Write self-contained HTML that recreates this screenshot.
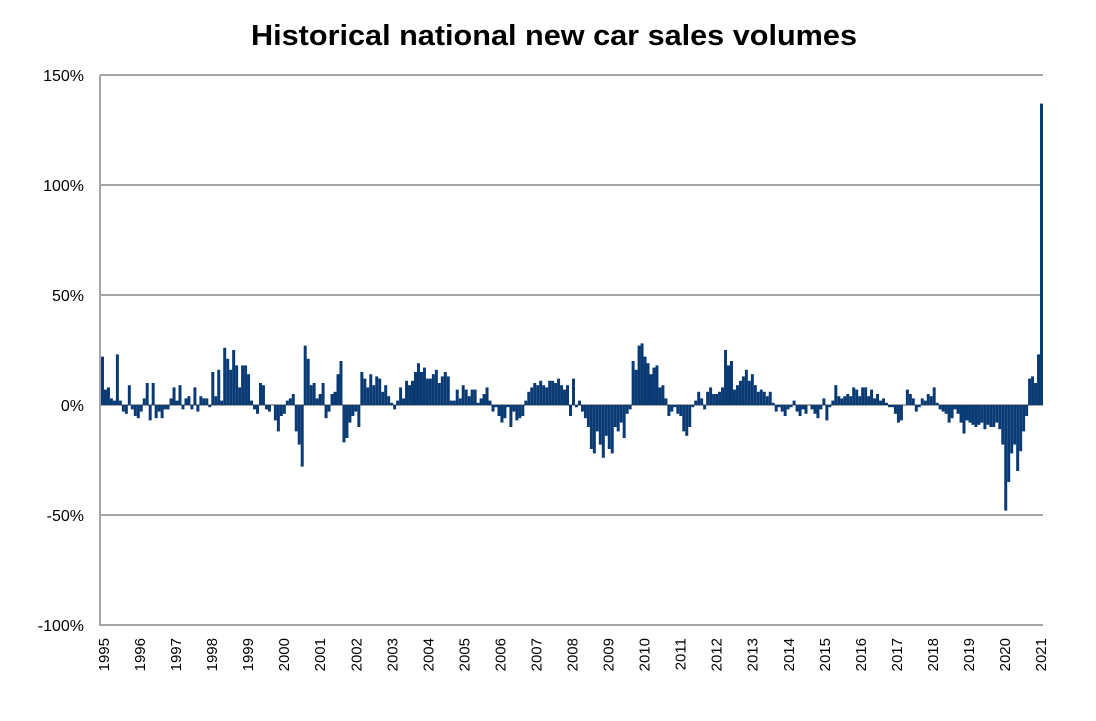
<!DOCTYPE html>
<html><head><meta charset="utf-8"><style>
body{margin:0;background:#fff;width:1096px;height:716px;overflow:hidden}
svg{font-family:"Liberation Sans",Arial,sans-serif}
</style></head><body>
<svg id="chart" width="1096" height="716" viewBox="0 0 1096 716">
<text x="554" y="45" text-anchor="middle" font-size="29" font-weight="bold" fill="#000" textLength="606" lengthAdjust="spacingAndGlyphs">Historical national new car sales volumes</text>
<g id="grid"></g><g id="bars"></g><g id="xlabels"></g>
</svg>
<script>
const yearLabels=[1995,1996,1997,1998,1999,2000,2001,2002,2003,2004,2005,2006,2007,2008,2009,2010,2011,2012,2013,2014,2015,2016,2017,2018,2019,2020,2021];
const yTicks=[150,100,50,0,-50,-100];
const y1995=[22,7,8,3,2,23,2,-3,-4,9,-2,-5];
const y1996=[-6,-3,3,10,-7,10,-6,-3,-6,-2,-2,3];
const y1997=[8,2,9,-2,3,4,-2,8,-3,4,3,3];
const y1998=[-1,15,4,16,2,26,21,16,25,18,8,18];
const y1999=[18,14,2,-2,-4,10,9,-2,-3,0,-7,-12];
const y2000=[-5,-4,2,3,5,-12,-18,-28,27,21,9,10];
const y2001=[3,5,10,-6,-3,5,6,14,20,-17,-15,-8];
const y2002=[-5,-3,-10,15,12,8,14,9,13,12,6,9];
const y2003=[4,1,-2,2,8,3,11,9,11,15,19,15];
const y2004=[17,12,12,14,16,10,13,15,13,2,2,7];
const y2005=[3,9,7,4,7,7,1,3,5,8,2,-3];
const y2006=[-1,-5,-8,-6,-1,-10,-3,-7,-6,-5,2,6];
const y2007=[8,10,9,11,9,8,11,11,10,12,9,7];
const y2008=[9,-5,12,-1,2,-3,-6,-10,-20,-22,-12,-18];
const y2009=[-24,-14,-20,-22,-10,-12,-8,-15,-4,-2,20,16];
const y2010=[27,28,22,19,14,17,18,8,9,3,-5,-3];
const y2011=[-1,-4,-5,-12,-14,-10,-1,2,6,3,-2,6];
const y2012=[8,5,5,6,8,25,18,20,7,9,11,13];
const y2013=[16,11,14,9,6,7,6,4,6,1,-3,-1];
const y2014=[-3,-5,-2,-1,2,-3,-5,-2,-4,0,-2,-4];
const y2015=[-6,-2,3,-7,-1,2,9,4,3,4,5,4];
const y2016=[8,7,4,8,8,4,7,3,5,2,3,1];
const y2017=[-1,-1,-4,-8,-7,0,7,5,3,-3,-1,3];
const y2018=[2,5,4,8,1,-2,-3,-4,-8,-6,-2,-4];
const y2019=[-8,-13,-7,-8,-9,-10,-9,-8,-11,-9,-10,-10];
const y2020=[-8,-11,-18,-48,-35,-22,-18,-30,-21,-12,-5,12];
const y2021=[13,10,23,137];
const values=[].concat(y1995,y1996,y1997,y1998,y1999,y2000,y2001,y2002,y2003,y2004,y2005,y2006,y2007,y2008,y2009,y2010,y2011,y2012,y2013,y2014,y2015,y2016,y2017,y2018,y2019,y2020,y2021);

const NS="http://www.w3.org/2000/svg";
const L=100,R=1043;
const yScale=v=>405-v*2.2;
const step=(R-101)/values.length;
const xMonth=i=>101+step*i;
const xYear=k=>104+36.04*k;
const grid=document.getElementById('grid');
const bars=document.getElementById('bars');
const xl=document.getElementById('xlabels');
yTicks.forEach(t=>{
  const ln=document.createElementNS(NS,'line');
  
  
  ln.setAttribute('x1',L);ln.setAttribute('x2',R);
  ln.setAttribute('y1',yScale(t));ln.setAttribute('y2',yScale(t));
  ln.setAttribute('stroke','#a6a6a6');ln.setAttribute('stroke-width','2');
  grid.appendChild(ln);
  const tx=document.createElementNS(NS,'text');
  
  
  tx.setAttribute('x',84);tx.setAttribute('y',yScale(t)+6);
  tx.setAttribute('text-anchor','end');tx.setAttribute('font-size','16');
  tx.textContent=t+'%';
  grid.appendChild(tx);
});
const ax=document.createElementNS(NS,'line');


ax.setAttribute('x1',L);ax.setAttribute('x2',L);ax.setAttribute('y1',75);ax.setAttribute('y2',626);
ax.setAttribute('stroke','#a6a6a6');ax.setAttribute('stroke-width','2');
grid.appendChild(ax);
values.forEach((v,i)=>{
  const r=document.createElementNS(NS,'rect');
  
  
  const y0=yScale(0),y1=yScale(v);
  r.setAttribute('x',xMonth(i));r.setAttribute('width',step);
  r.setAttribute('y',Math.min(y0,y1));r.setAttribute('height',Math.abs(y1-y0));
  r.setAttribute('fill','#0a3a74');
  bars.appendChild(r);
});
yearLabels.forEach((yr,k)=>{
  const tx=document.createElementNS(NS,'text');
  
  
  const x=xYear(k)+5,y=638;
  tx.setAttribute('x',x);tx.setAttribute('y',y);
  tx.setAttribute('text-anchor','end');tx.setAttribute('font-size','15');
  tx.setAttribute('transform','rotate(-90 '+x+' '+y+')');
  tx.textContent=yr;
  xl.appendChild(tx);
});
</script>
</body></html>
